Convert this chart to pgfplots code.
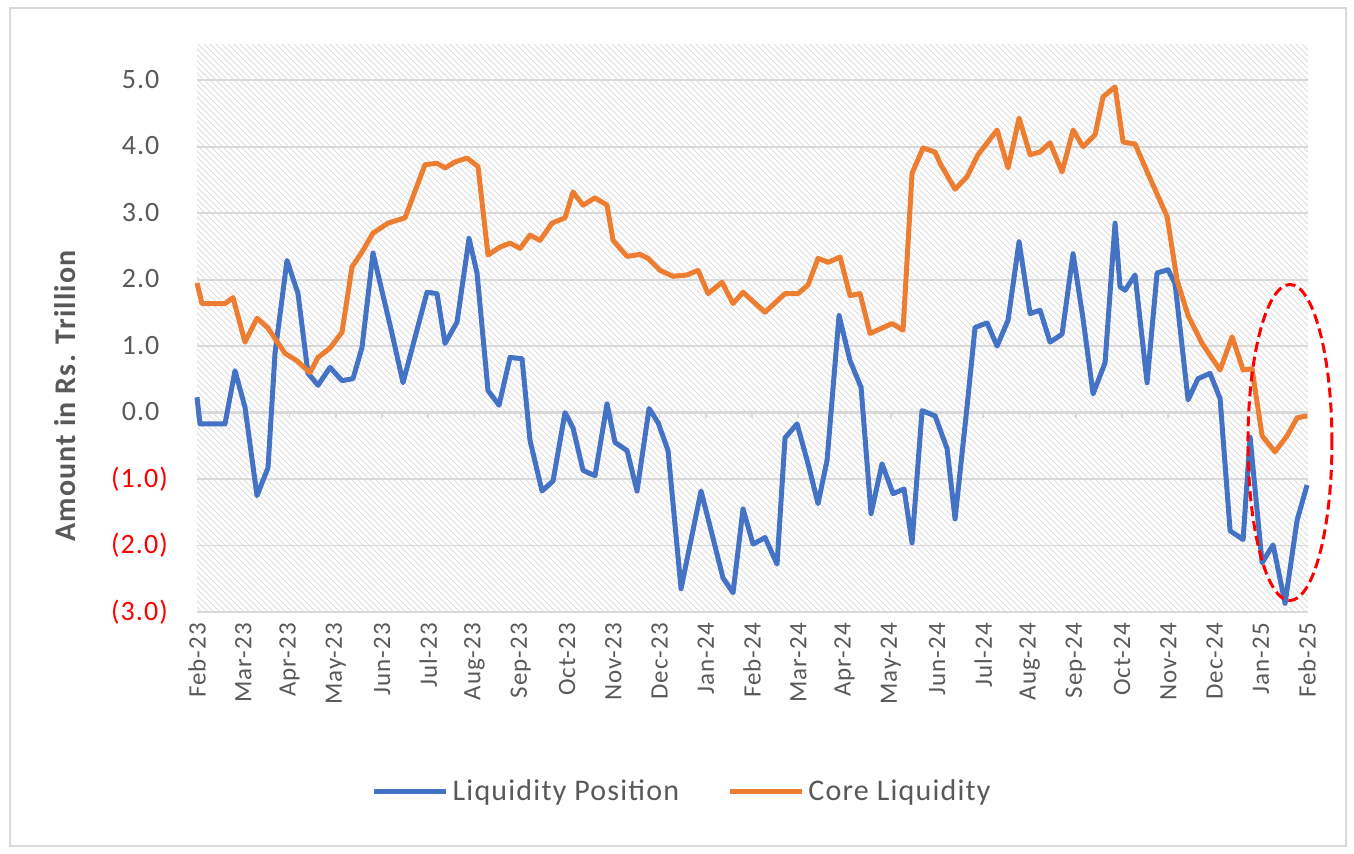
\documentclass[border=0pt]{standalone}
\usepackage{pgfplots}
\pgfplotsset{compat=1.18}
\usepackage{pgfplotstable}
\usepackage{fontspec}
\setmainfont{Carlito}[LetterSpace=4]
\usetikzlibrary{patterns}
\definecolor{lpblue}{HTML}{4472C4}
\definecolor{clorange}{HTML}{ED7D31}
\definecolor{txtgray}{HTML}{595959}
\definecolor{gridgray}{HTML}{D9D9D9}

% px = horizontal position (197 = Feb-23, 46.25 per month), v = Rs. trillion
\pgfplotstableread{
px v
197 0.23
200 -0.17
225 -0.17
235 0.63
245 0.08
257 -1.25
268 -0.83
275 0.89
287 2.29
298 1.79
308 0.59
318 0.41
330 0.68
342 0.48
353 0.51
362 0.98
373 2.40
392 1.19
403 0.45
427 1.81
437 1.79
445 1.04
457 1.36
469 2.62
477 2.10
488 0.33
499 0.11
510 0.83
522 0.81
530 -0.42
542 -1.18
553 -1.03
565 0.00
573 -0.23
583 -0.87
595 -0.95
607 0.13
615 -0.45
627 -0.57
637 -1.18
649 0.06
658 -0.15
668 -0.57
681 -2.65
701 -1.18
712 -1.83
723 -2.49
733 -2.71
743 -1.45
753 -1.98
765 -1.88
777 -2.28
785 -0.38
797 -0.17
808 -0.77
818 -1.37
827 -0.72
839 1.46
850 0.78
861 0.38
871 -1.52
882 -0.77
893 -1.22
904 -1.15
912 -1.96
922 0.03
935 -0.05
947 -0.54
955 -1.60
967 0.09
975 1.28
987 1.35
997 1.00
1008 1.39
1019 2.57
1030 1.49
1040 1.54
1050 1.06
1062 1.18
1073 2.39
1083 1.41
1093 0.28
1105 0.75
1115 2.85
1120 1.89
1125 1.84
1135 2.07
1147 0.45
1157 2.10
1168 2.15
1175 1.94
1188 0.19
1198 0.51
1210 0.59
1220 0.21
1230 -1.78
1243 -1.91
1250 -0.37
1262 -2.26
1273 -1.99
1285 -2.87
1297 -1.62
1307 -1.09
}\liqpos

\pgfplotstableread{
px v
197 1.95
202 1.64
225 1.64
233 1.73
245 1.06
257 1.42
268 1.27
285 0.89
297 0.78
310 0.60
318 0.83
330 0.97
342 1.21
352 2.19
363 2.44
373 2.70
388 2.85
405 2.93
425 3.73
437 3.75
445 3.68
455 3.77
467 3.83
478 3.70
488 2.37
500 2.49
510 2.55
520 2.47
530 2.67
540 2.59
552 2.85
565 2.93
573 3.32
583 3.12
595 3.23
607 3.12
613 2.59
627 2.35
640 2.38
648 2.32
660 2.14
673 2.05
687 2.07
698 2.14
708 1.79
722 1.96
733 1.64
743 1.81
765 1.51
785 1.79
798 1.79
808 1.92
818 2.32
828 2.26
840 2.34
850 1.76
860 1.79
870 1.19
892 1.34
903 1.24
912 3.60
923 3.98
935 3.92
940 3.75
955 3.36
967 3.55
978 3.88
997 4.25
1008 3.68
1019 4.43
1030 3.88
1040 3.92
1050 4.06
1062 3.62
1073 4.25
1083 4.00
1095 4.18
1103 4.75
1115 4.90
1123 4.07
1135 4.04
1148 3.59
1167 2.95
1177 1.99
1188 1.46
1202 1.04
1220 0.64
1232 1.14
1243 0.64
1252 0.66
1262 -0.35
1275 -0.59
1287 -0.35
1297 -0.08
1307 -0.05
}\coreliq

\begin{document}
\begin{tikzpicture}
\path[use as bounding box] (0,0) rectangle (677pt,427pt);
\draw[gridgray, line width=1pt] (5pt,4pt) rectangle (673pt,423pt);
\begin{axis}[
  at={(98.5pt,121pt)}, anchor=south west,
  scale only axis, width=555.5pt, height=283.5pt,
  xmin=0, xmax=24.02, ymin=-3, ymax=5.53,
  clip=false,
  axis line style={draw=none},
  axis background/.style={pattern=north west lines, pattern color=black!13},
  ymajorgrids, major grid style={gridgray, line width=0.9pt},
  major tick length=0pt,
  xtick={0,...,24},
  xticklabels={Feb-23,Mar-23,Apr-23,May-23,Jun-23,Jul-23,Aug-23,Sep-23,Oct-23,Nov-23,Dec-23,Jan-24,Feb-24,Mar-24,Apr-24,May-24,Jun-24,Jul-24,Aug-24,Sep-24,Oct-24,Nov-24,Dec-24,Jan-25,Feb-25},
  xticklabel style={rotate=90, anchor=east, font=\fontsize{12.5}{14}\selectfont, text=txtgray},
  xticklabel shift=2pt,
  ytick={-3,...,5},
  yticklabels={\textcolor{red}{(3.0)},\textcolor{red}{(2.0)},\textcolor{red}{(1.0)},0.0\phantom{)},1.0\phantom{)},2.0\phantom{)},3.0\phantom{)},4.0\phantom{)},5.0\phantom{)}},
  yticklabel style={font=\fontsize{14}{16}\selectfont, text=txtgray},
  yticklabel shift=11pt,
  ylabel={Amount in Rs. Trillion},
  every axis y label/.style={at={(axis description cs:-0.1188,0.381)}, rotate=90, anchor=center, font=\bfseries\fontsize{15}{17}\selectfont, text=txtgray},
  legend columns=2,
  legend style={draw=none, fill=none, at={(axis description cs:0.4375,-0.317)}, anchor=center,
    font=\fontsize{15}{17}\selectfont, text=txtgray,
    nodes={inner sep=2pt},
    /tikz/every even column/.append style={column sep=22pt}},
  legend image code/.code={\draw[#1, line width=2.6pt] (0pt,0pt) -- (36pt,0pt);},
]
\draw[gridgray, line width=1.1pt] (axis cs:0,0) -- (axis cs:24.02,0);
\pgfplotsinvokeforeach{0,...,24}{\draw[gridgray, line width=0.9pt] (axis cs:#1,0) -- ([yshift=-2.5pt]axis cs:#1,0);}
\addplot[lpblue, line width=2.5pt, line join=round] table[x expr={(\thisrow{px}-197)/46.25}, y=v] {\liqpos};
\addlegendentry{Liquidity Position}
\addplot[clorange, line width=2.5pt, line join=round] table[x expr={(\thisrow{px}-197)/46.25}, y=v] {\coreliq};
\addlegendentry{Core Liquidity}
\draw[red, line width=1.5pt, dash pattern=on 5pt off 2.5pt] (axis cs:23.63,-0.45) ellipse [x radius=21pt, y radius=79pt];
\end{axis}
\end{tikzpicture}
\end{document}
